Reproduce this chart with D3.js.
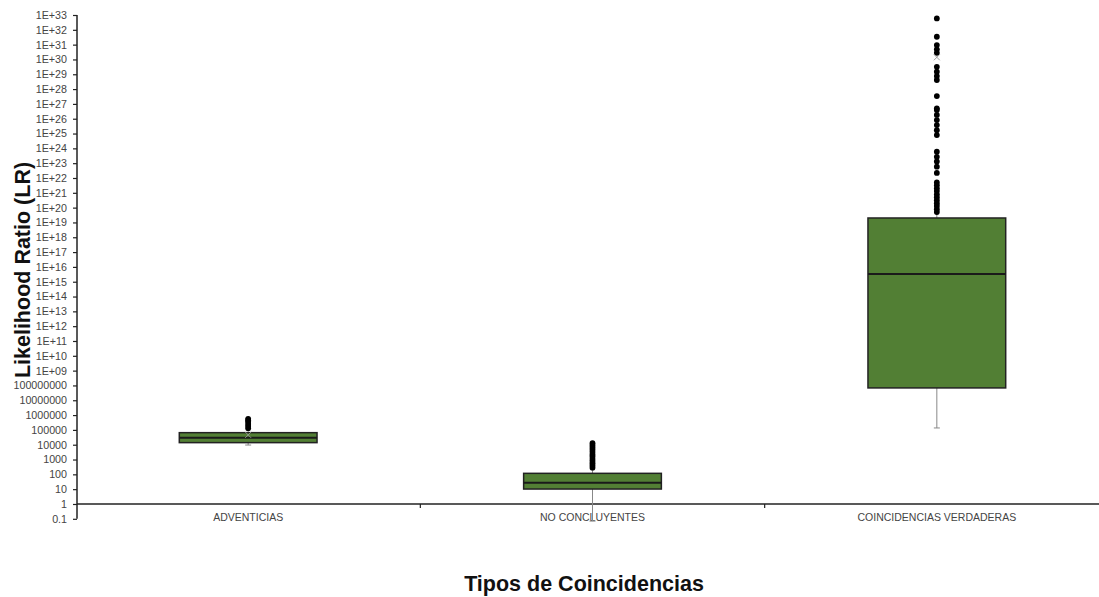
<!DOCTYPE html>
<html>
<head>
<meta charset="utf-8">
<script src="https://cdn.jsdelivr.net/npm/d3@7"></script>
<style>
  html, body { margin: 0; padding: 0; background: #fff; }
  svg { display: block; font-family: "Liberation Sans", Arial, sans-serif; }
</style>
</head>
<body>
<svg id="chart" width="1099" height="597"></svg>
<script>
// ---- Data ----
const categories = ["ADVENTICIAS", "NO CONCLUYENTES", "COINCIDENCIAS VERDADERAS"];
const q1Values = [1.38e4, 10.2, 6.8e7];
const medianValues = [2.95e4, 27.5, 3.3e15];
const q3Values = [6.5e4, 117, 2.0e19];
const whiskerLow = [9.5e3, 0.07, 1.35e5];
const whiskerHigh = [1.0e5, 224, 4.0e19];
const meanValues = [4.6e4, null, 1.4e30];
const outliersAdventicias = [1.3e5, 1.8e5, 2.5e5, 3.5e5, 4.5e5, 5.6e5];
const outliersNoConcluyentes = [280, 400, 560, 790, 1100, 1600, 2200, 3200, 4500, 6300, 8900, 12600];
const outliersVerdaderas = [5.9e32, 3.4e31, 9.3e30, 4.8e30, 2.8e30, 3.2e29, 1.5e29, 7.6e28, 4.1e28,
  3.4e27, 5.0e26, 3.9e26, 1.8e26, 8.1e25, 3.7e25, 1.7e25, 7.9e24, 5.9e23, 2.7e23, 1.3e23, 5.8e22,
  2.2e22, 5e21, 3.2e21, 2e21, 1.3e21, 7.9e20, 5e20, 3.2e20, 2e20, 1.3e20, 7.9e19, 5e19];
const outliers = [outliersAdventicias, outliersNoConcluyentes, outliersVerdaderas];
const tickValues = [0.1, 1, 10, 100, 1000, 10000, 100000, 1000000, 10000000, 100000000,
  1e9, 1e10, 1e11, 1e12, 1e13, 1e14, 1e15, 1e16, 1e17, 1e18, 1e19, 1e20, 1e21, 1e22, 1e23,
  1e24, 1e25, 1e26, 1e27, 1e28, 1e29, 1e30, 1e31, 1e32, 1e33];
const tickLabels = ["0.1", "1", "10", "100", "1000", "10000", "100000", "1000000", "10000000", "100000000",
  "1E+09", "1E+10", "1E+11", "1E+12", "1E+13", "1E+14", "1E+15", "1E+16", "1E+17", "1E+18", "1E+19",
  "1E+20", "1E+21", "1E+22", "1E+23", "1E+24", "1E+25", "1E+26", "1E+27", "1E+28", "1E+29", "1E+30",
  "1E+31", "1E+32", "1E+33"];
const yTitle = "Likelihood Ratio (LR)";
const xTitle = "Tipos de Coincidencias";

// ---- Layout ----
const svg = d3.select("#chart");
const axisX = 77;
const y = d3.scaleLog().domain([0.1, 1e33]).range([518.8, 15]);
const x = d3.scaleBand().domain(categories).range([76, 1109]).padding(0);
const boxW = x.bandwidth() * 0.4;
const baseY = y(1);

// Y axis
const yAxis = d3.axisLeft(y)
  .tickValues(tickValues)
  .tickFormat((d, i) => tickLabels[i])
  .tickSize(4)
  .tickPadding(6);
const gy = svg.append("g").attr("transform", `translate(${axisX},0)`).call(yAxis);
gy.select(".domain").attr("stroke", "#222").attr("stroke-width", 1.5).attr("d", `M0,${y(0.1)}V${y(1e33)}`);
gy.selectAll(".tick line").attr("stroke", "#222").attr("stroke-width", 1.2);
gy.selectAll(".tick text").attr("fill", "#444").style("font-size", "10.7px")
  .style("font-family", "'Liberation Sans', Arial, sans-serif");

// X axis (at LR = 1)
const xAxis = d3.axisBottom(x).tickSize(0).tickPadding(10);
const gx = svg.append("g").attr("transform", `translate(0,${baseY})`).call(xAxis);
gx.select(".domain").attr("stroke", "#222").attr("stroke-width", 1.5).attr("d", `M${axisX},0H1099`);
gx.selectAll(".tick text").attr("fill", "#444").style("font-size", "10.5px")
  .style("font-family", "'Liberation Sans', Arial, sans-serif");
// band boundary ticks
gx.selectAll(".bound").data(categories.slice(1)).enter().append("line")
  .attr("x1", d => x(d)).attr("x2", d => x(d)).attr("y1", 0).attr("y2", 4)
  .attr("stroke", "#222").attr("stroke-width", 1.2);

// Boxes
const boxes = svg.append("g").selectAll("g").data(categories).enter().append("g")
  .attr("transform", d => `translate(${x(d) + x.bandwidth() / 2},0)`);

// whiskers
boxes.append("line").attr("x1", 0).attr("x2", 0)
  .attr("y1", (d, i) => y(q1Values[i])).attr("y2", (d, i) => y(whiskerLow[i]))
  .attr("stroke", "#888").attr("stroke-width", 1);
boxes.append("line").attr("x1", 0).attr("x2", 0)
  .attr("y1", (d, i) => y(q3Values[i])).attr("y2", (d, i) => y(whiskerHigh[i]))
  .attr("stroke", "#888").attr("stroke-width", 1);
boxes.append("line").attr("x1", -3).attr("x2", 3)
  .attr("y1", (d, i) => y(whiskerLow[i])).attr("y2", (d, i) => y(whiskerLow[i]))
  .attr("stroke", "#888").attr("stroke-width", 1);

// box
boxes.append("rect")
  .attr("x", -boxW / 2).attr("width", boxW)
  .attr("y", (d, i) => y(q3Values[i]))
  .attr("height", (d, i) => y(q1Values[i]) - y(q3Values[i]))
  .attr("fill", "#527f34").attr("stroke", "#222").attr("stroke-width", 1.5);
// median
boxes.append("line").attr("x1", -boxW / 2).attr("x2", boxW / 2)
  .attr("y1", (d, i) => y(medianValues[i])).attr("y2", (d, i) => y(medianValues[i]))
  .attr("stroke", "#1a1a1a").attr("stroke-width", 2);

// outliers
boxes.each(function (d, i) {
  d3.select(this).selectAll("circle").data(outliers[i]).enter().append("circle")
    .attr("cx", 0).attr("cy", v => y(v)).attr("r", 2.9).attr("fill", "#000");
});

// mean markers (small x)
boxes.each(function (d, i) {
  if (meanValues[i] == null) return;
  const my = y(meanValues[i]);
  const g = d3.select(this);
  g.append("path").attr("d", `M-3,${my - 3}L3,${my + 3}M-3,${my + 3}L3,${my - 3}`)
    .attr("stroke", "#999").attr("stroke-width", 0.9).attr("fill", "none");
});

// Titles
svg.append("text").attr("transform", `translate(30,270) rotate(-90)`)
  .attr("text-anchor", "middle").style("font-size", "21.5px").style("font-weight", "bold")
  .attr("fill", "#111").text(yTitle);
svg.append("text").attr("x", 584).attr("y", 591)
  .attr("text-anchor", "middle").style("font-size", "21.5px").style("font-weight", "bold")
  .attr("fill", "#111").text(xTitle);
</script>
</body>
</html>
